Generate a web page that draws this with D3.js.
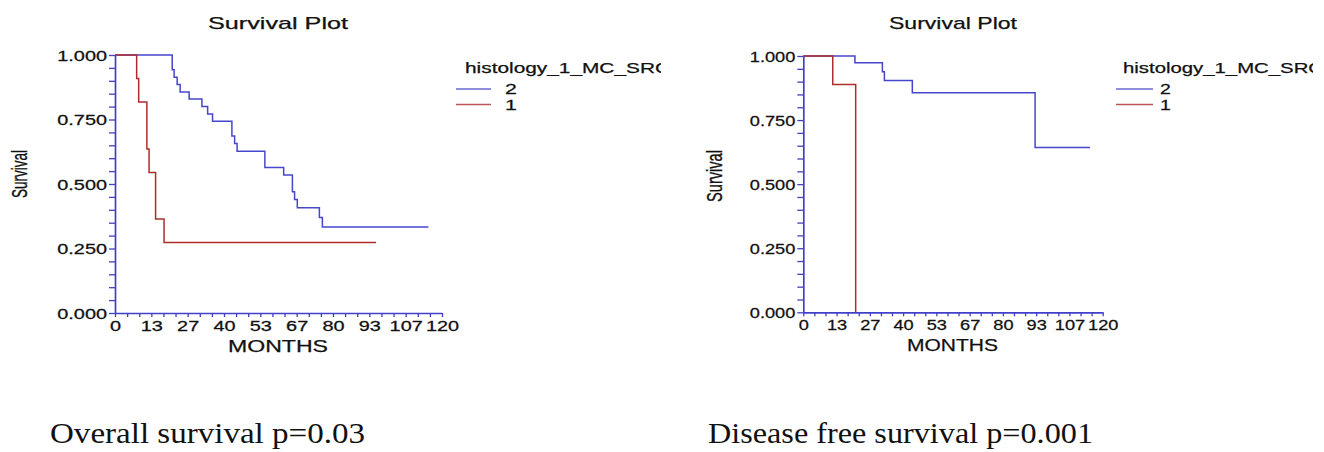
<!DOCTYPE html>
<html lang="en">
<head>
<meta charset="UTF-8">
<title>Survival plots</title>
<script src="https://d3js.org/d3.v7.min.js"></script>
<style>
  body { margin: 0; background: #fff; }
  svg { display: block; font-family: "Liberation Sans", Arial, sans-serif; }
  .lbl { stroke: #111; stroke-width: 0.25px; }
</style>
</head>
<body>
<div id="chart"></div>
<script>
// tick labels and legend
const xTickLabels = ["0", "13", "27", "40", "53", "67", "80", "93", "107", "120"];
const yTickLabels = ["0.000", "0.250", "0.500", "0.750", "1.000"];
const legendTitle = "histology_1_MC_SRC";
const groupNames = ["2", "1"];
const captions = ["Overall survival p=0.03", "Disease free survival p=0.001"];

// overall survival, group 2 (blue) and group 1 (red)
const osMonths2 = [21.0, 21.7, 22.8, 23.9, 27.2, 31.9, 34.0, 35.8, 42.9, 43.9, 44.8, 55.0, 61.9, 65.1, 65.9, 66.9, 75.0, 76.1];
const osSurv2 = [0.943, 0.914, 0.886, 0.857, 0.829, 0.800, 0.771, 0.743, 0.686, 0.657, 0.627, 0.564, 0.535, 0.470, 0.440, 0.408, 0.370, 0.333];
const osEnd2 = 115;
const osMonths1 = [7.95, 8.7, 11.7, 12.5, 14.9, 18.0];
const osSurv1 = [0.909, 0.818, 0.636, 0.545, 0.364, 0.273];
const osEnd1 = 95.8;

// disease free survival
const dfsMonths2 = [20.7, 31.7, 32.5, 43.7, 92.9];
const dfsSurv2 = [0.974, 0.939, 0.904, 0.857, 0.643];
const dfsEnd2 = 114.9;
const dfsMonths1 = [11.8, 21.0];
const dfsSurv1 = [0.889, 0.0];
const dfsEnd1 = 21.0;

const blue = "#4646cc", red = "#b02c2c", axisBlue = "#4040c8", ink = "#111";

const svg = d3.select("#chart").append("svg")
  .attr("width", 1324).attr("height", 452);

// the source picture is stretched sideways, so text gets scaled in x
const panels = [
  { x0: 115, x1: 442, yTop: 55, yBot: 313, sx: 1.42,
    title: [278, 29, 140], months: [278, 352, 100], ylab: [27, 174, 48],
    legend: { x: 465, y: 73, w: 205, clip: 661, l0: 456, l1: 491, num: 505 },
    caption: [50, 443, 315],
    series: [[osMonths2, osSurv2, osEnd2], [osMonths1, osSurv1, osEnd1]] },
  { x0: 803.3, x1: 1102.7, yTop: 56, yBot: 312.3, sx: 1.3,
    title: [953, 29, 128], months: [952.5, 351, 91], ylab: [722, 176, 52],
    legend: { x: 1123, y: 73, w: 200, clip: 1313, l0: 1116, l1: 1153, num: 1160 },
    caption: [708, 443, 385],
    series: [[dfsMonths2, dfsSurv2, dfsEnd2], [dfsMonths1, dfsSurv1, dfsEnd1]] }
];

panels.forEach((p, pi) => {
  const g = svg.append("g");
  const x = d3.scaleLinear().domain([0, 120]).range([p.x0, p.x1]);
  const y = d3.scaleLinear().domain([0, 1]).range([p.yBot, p.yTop]);

  // curves, blue first so red sits on top
  const line = d3.line().x(d => x(d[0])).y(d => y(d[1])).curve(d3.curveStepAfter);
  p.series.forEach((s, i) => {
    const pts = [[0, 1]].concat(s[0].map((m, k) => [m, s[1][k]]));
    pts.push([s[2], s[1][s[1].length - 1]]);
    g.append("path").datum(pts)
      .attr("d", line)
      .attr("fill", "none")
      .attr("stroke", i === 0 ? blue : red)
      .attr("stroke-width", 1.5);
  });

  // x axis
  const xTicks = d3.range(28).map(i => i * 120 / 27);
  const xa = g.append("g")
    .attr("transform", `translate(0,${p.yBot})`)
    .call(d3.axisBottom(x).tickValues(xTicks).tickSize(4).tickSizeOuter(0)
      .tickFormat((d, i) => i % 3 === 0 ? xTickLabels[i / 3] : ""));
  xa.selectAll("text")
    .attr("class", "lbl")
    .attr("y", 0).attr("dy", 0)
    .attr("transform", `translate(0,17.5) scale(${p.sx},1)`)
    .attr("fill", ink).style("font-size", "14px");

  // y axis
  const yTicks = d3.range(21).map(i => i * 0.05);
  const ya = g.append("g")
    .attr("transform", `translate(${p.x0},0)`)
    .call(d3.axisLeft(y).tickValues(yTicks).tickSize(6).tickSizeOuter(0)
      .tickFormat((d, i) => i % 5 === 0 ? yTickLabels[i / 5] : ""));
  ya.selectAll("text")
    .attr("class", "lbl")
    .attr("x", 0).attr("dy", "0.36em")
    .attr("transform", `translate(-8,0) scale(${p.sx},1)`)
    .attr("fill", ink).style("font-size", "14px");

  [xa, ya].forEach(a => {
    a.select(".domain").attr("stroke", axisBlue).attr("stroke-width", 1.7);
    a.selectAll(".tick line").attr("stroke", axisBlue).attr("stroke-width", 1.3);
  });

  // labels
  g.append("text").attr("class", "lbl").attr("x", p.title[0]).attr("y", p.title[1])
    .attr("text-anchor", "middle").attr("fill", ink)
    .attr("textLength", p.title[2]).attr("lengthAdjust", "spacingAndGlyphs")
    .style("font-size", "17px").text("Survival Plot");
  g.append("text").attr("class", "lbl").attr("x", p.months[0]).attr("y", p.months[1])
    .attr("text-anchor", "middle").attr("fill", ink)
    .attr("textLength", p.months[2]).attr("lengthAdjust", "spacingAndGlyphs")
    .style("font-size", "17px").text("MONTHS");
  g.append("g").attr("transform", `translate(${p.ylab[0]},${p.ylab[1]}) scale(1.45,1) rotate(-90)`)
    .append("text").attr("class", "lbl").attr("text-anchor", "middle").attr("fill", ink)
    .attr("textLength", p.ylab[2]).attr("lengthAdjust", "spacingAndGlyphs")
    .style("font-size", "15px").text("Survival");

  // legend
  const L = p.legend;
  const cid = "clip" + pi;
  svg.append("clipPath").attr("id", cid)
    .append("rect").attr("x", L.x - 20).attr("y", L.y - 20).attr("width", L.clip - L.x + 20).attr("height", 40);
  g.append("text").attr("class", "lbl").attr("x", L.x).attr("y", L.y).attr("fill", ink)
    .attr("clip-path", `url(#${cid})`)
    .attr("textLength", L.w).attr("lengthAdjust", "spacingAndGlyphs")
    .style("font-size", "15px").text(legendTitle);
  groupNames.forEach((nm, i) => {
    const ly = 89 + i * 15.5;
    g.append("line").attr("x1", L.l0).attr("x2", L.l1).attr("y1", ly).attr("y2", ly)
      .attr("stroke", i === 0 ? blue : red).attr("stroke-width", 1.3).attr("opacity", 0.8);
    g.append("text").attr("class", "lbl").attr("transform", `translate(${L.num},${ly + 5}) scale(${p.sx},1)`)
      .attr("fill", ink).style("font-size", "15px").text(nm);
  });

  // caption under each plot
  g.append("text").attr("x", p.caption[0]).attr("y", p.caption[1])
    .attr("fill", ink)
    .attr("textLength", p.caption[2]).attr("lengthAdjust", "spacingAndGlyphs")
    .style("font-family", "'Liberation Serif', 'DejaVu Serif', serif")
    .style("font-size", "29px").text(captions[pi]);
});
</script>
</body>
</html>
